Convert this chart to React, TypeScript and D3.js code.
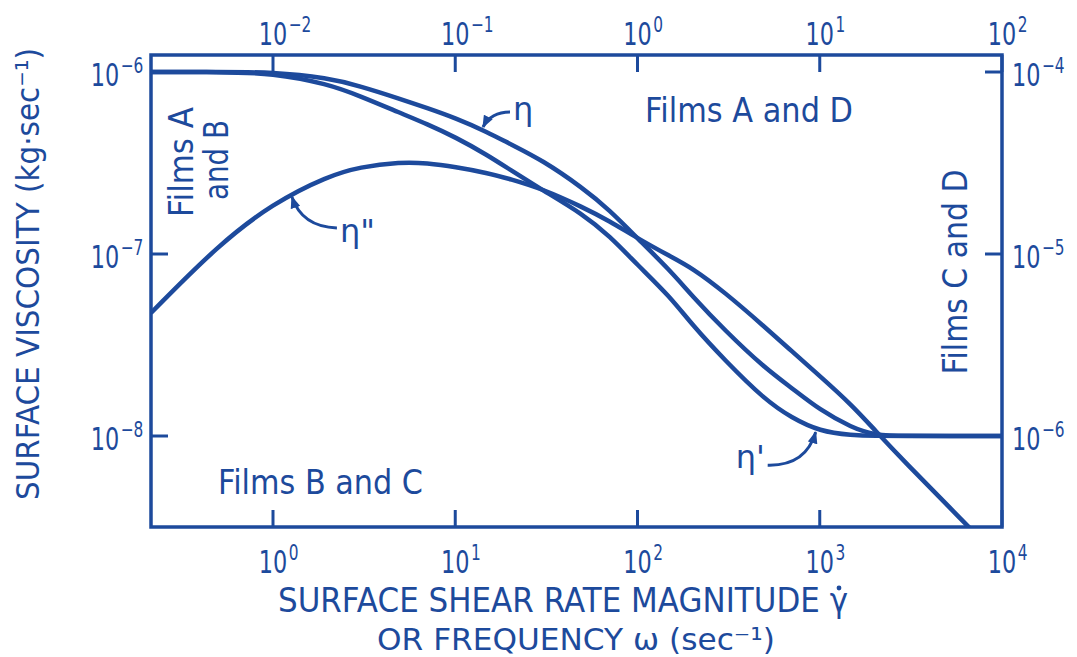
import React from "react";
import * as d3 from "d3";

const INK = "#1d4a9c";
const FONT = "'DejaVu Sans', 'Liberation Sans', sans-serif";

// surface shear rate / frequency (sec^-1), bottom axis
const shearRate = [0.214, 0.5, 1, 2, 3, 5, 7, 10, 15, 20, 30, 50, 70, 100, 150, 200, 300, 500, 700, 1000, 1500, 2000, 3000, 5000, 10000];

// eta (steady shear viscosity), kg/sec
const eta = [1.0e-6, 1.0e-6, 1.0e-6, 9.27e-7, 8.38e-7, 7.11e-7, 6.34e-7, 5.59e-7, 4.68e-7, 4.02e-7, 3.28e-7, 2.31e-7, 1.75e-7, 1.22e-7, 8.17e-8, 5.87e-8, 3.82e-8, 2.36e-8, 1.84e-8, 1.39e-8, 1.11e-8, 1.01e-8, 1.0e-8, 1.0e-8, 1.0e-8];

// eta' (dynamic viscosity)
const etaPrime = [1.0e-6, 1.0e-6, 9.87e-7, 8.59e-7, 7.38e-7, 5.95e-7, 5.18e-7, 4.39e-7, 3.5e-7, 2.9e-7, 2.25e-7, 1.66e-7, 1.26e-7, 8.71e-8, 5.87e-8, 4.07e-8, 2.62e-8, 1.58e-8, 1.26e-8, 1.06e-8, 1.01e-8, 1.0e-8, 1.0e-8, 1.0e-8, 1.0e-8];

// eta'' (out-of-phase component)
const etaDoublePrime = [4.74e-8, 1.12e-7, 1.9e-7, 2.68e-7, 3.01e-7, 3.2e-7, 3.16e-7, 3.01e-7, 2.79e-7, 2.58e-7, 2.28e-7, 1.81e-7, 1.52e-7, 1.22e-7, 9.75e-8, 8.37e-8, 6.18e-8, 3.97e-8, 2.93e-8, 2.14e-8, 1.48e-8, 1.08e-8, 7.02e-9, 4.18e-9, 2.06e-9];

const bottomTicks = [1, 10, 100, 1000, 10000];
const bottomExp = ["0", "1", "2", "3", "4"];
const topTicks = [0.01, 0.1, 1, 10, 100];
const topExp = ["\u22122", "\u22121", "0", "1", "2"];
const leftTicks = [1e-6, 1e-7, 1e-8];
const leftExp = ["\u22126", "\u22127", "\u22128"];
const rightTicks = [1e-4, 1e-5, 1e-6];
const rightExp = ["\u22124", "\u22125", "\u22126"];

// curve labels: text, arrow tip (rate, viscosity), label offset, arrow start, control point (px offsets from tip)
const curveLabels = ["\u03b7", "\u03b7\"", "\u03b7'"];
const labelTipRate = [14.2, 1.27, 950];
const labelTipVisc = [4.99e-7, 2.06e-7, 1.05e-8];
const labelOffset = [[30, -7], [48, 45], [-80, 36]];
const arrowStart = [[27, -15], [45, 31], [-48, 33]];
const arrowCtrl = [[8, -15], [10, 30], [-10, 34]];

const W = 1077;
const H = 657;
const frame = { left: 151, right: 1002, top: 55, bottom: 527 };

const x = d3.scaleLog().domain([1, 1e4]).range([273, 1002]);
const xTop = d3.scaleLog().domain([1e-2, 1e2]).range([273, 1002]);
const y = d3.scaleLog().domain([1e-6, 1e-8]).range([72, 436]);
const yRight = d3.scaleLog().domain([1e-4, 1e-6]).range([72, 436]);

const line = (vals: number[]) =>
  d3
    .line<number>()
    .x((_, i) => x(shearRate[i]))
    .y((d) => y(d))
    .curve(d3.curveBasis)(vals) || "";

function Pow({ px, py, exp, anchor }: { px: number; py: number; exp: string; anchor: "mid" | "end" | "start" }) {
  // "10" with a superscript, condensed horizontally like the lettering guide
  const sx = 0.7;
  const baseW = 40.7;
  let x0 = -baseW / 2;
  if (anchor === "end") x0 = -(baseW + 4 + exp.length * 13.5);
  if (anchor === "start") x0 = 0;
  return (
    <g transform={`translate(${px},${py}) scale(${sx},1)`}>
      <text x={x0} y={0} fontSize={32}>10</text>
      <text x={x0 + baseW + 2} y={-13} fontSize={22}>{exp}</text>
    </g>
  );
}

export default function App() {
  const tick = 17;
  return (
    <svg
      width={W}
      height={H}
      style={{ position: "absolute", left: 0, top: 0, background: "#fff" }}
      fontFamily={FONT}
      fill={INK}
    >
      <defs>
        <clipPath id="plot">
          <rect x={frame.left} y={frame.top} width={frame.right - frame.left} height={frame.bottom - frame.top} />
        </clipPath>
        <marker id="head" viewBox="0 0 10 8" refX={9} refY={4} markerWidth={13} markerHeight={10} markerUnits="userSpaceOnUse" orient="auto">
          <path d="M0,0 L10,4 L0,8 Z" fill={INK} />
        </marker>
      </defs>

      {/* frame */}
      <rect
        x={frame.left}
        y={frame.top}
        width={frame.right - frame.left}
        height={frame.bottom - frame.top}
        fill="none"
        stroke={INK}
        strokeWidth={3.5}
      />

      {/* ticks */}
      <g stroke={INK} strokeWidth={3}>
        {bottomTicks.map((t) => (
          <line key={"b" + t} x1={x(t)} x2={x(t)} y1={frame.bottom} y2={frame.bottom - tick} />
        ))}
        {topTicks.map((t) => (
          <line key={"t" + t} x1={xTop(t)} x2={xTop(t)} y1={frame.top} y2={frame.top + tick} />
        ))}
        {leftTicks.map((t) => (
          <line key={"l" + t} x1={frame.left} x2={frame.left + tick} y1={y(t)} y2={y(t)} />
        ))}
        {rightTicks.map((t) => (
          <line key={"r" + t} x1={frame.right} x2={frame.right - tick} y1={yRight(t)} y2={yRight(t)} />
        ))}
      </g>

      {/* tick labels */}
      {bottomTicks.map((t, i) => (
        <Pow key={"bl" + t} px={x(t)} py={573} exp={bottomExp[i]} anchor="mid" />
      ))}
      {topTicks.map((t, i) => (
        <Pow key={"tl" + t} px={xTop(t)} py={45} exp={topExp[i]} anchor="mid" />
      ))}
      {leftTicks.map((t, i) => (
        <Pow key={"ll" + t} px={141} py={y(t) + 14} exp={leftExp[i]} anchor="end" />
      ))}
      {rightTicks.map((t, i) => (
        <Pow key={"rl" + t} px={1012} py={yRight(t) + 14} exp={rightExp[i]} anchor="start" />
      ))}

      {/* curves */}
      <g clipPath="url(#plot)" fill="none" stroke={INK} strokeWidth={4.5} strokeLinejoin="round">
        <path d={line(eta)} />
        <path d={line(etaPrime)} />
        <path d={line(etaDoublePrime)} />
      </g>

      {/* curve labels with arrows */}
      {curveLabels.map((lab, i) => {
        const tx = x(labelTipRate[i]);
        const ty = y(labelTipVisc[i]);
        const s = arrowStart[i];
        const c = arrowCtrl[i];
        return (
          <g key={lab}>
            <path
              d={`M${tx + s[0]},${ty + s[1]} Q${tx + c[0]},${ty + c[1]} ${tx},${ty}`}
              fill="none"
              stroke={INK}
              strokeWidth={3}
              markerEnd="url(#head)"
            />
            <text x={tx + labelOffset[i][0]} y={ty + labelOffset[i][1]} fontSize={32}>
              {lab}
            </text>
          </g>
        );
      })}

      {/* region labels */}
      <text x={645} y={122} fontSize={33} textLength={208} lengthAdjust="spacingAndGlyphs">Films A and D</text>
      <text x={218} y={494} fontSize={34} textLength={205} lengthAdjust="spacingAndGlyphs">Films B and C</text>
      <text x={193} y={162} fontSize={34} textAnchor="middle" textLength={110} lengthAdjust="spacingAndGlyphs" transform="rotate(-90,193,162)">Films A</text>
      <text x={228} y={160} fontSize={34} textAnchor="middle" textLength={80} lengthAdjust="spacingAndGlyphs" transform="rotate(-90,228,160)">and B</text>
      <text x={967} y={272} fontSize={34} textAnchor="middle" textLength={205} lengthAdjust="spacingAndGlyphs" transform="rotate(-90,967,272)">Films C and D</text>

      {/* axis titles */}
      <text x={39} y={274} fontSize={32} textAnchor="middle" textLength={452} lengthAdjust="spacingAndGlyphs" transform="rotate(-90,39,274)">
        SURFACE VISCOSITY (kg·sec⁻¹)
      </text>
      <text x={278} y={612} fontSize={33} textLength={570} lengthAdjust="spacingAndGlyphs">SURFACE SHEAR RATE MAGNITUDE γ</text>
      <circle cx={839} cy={588} r={2.4} fill={INK} />
      <text x={377} y={650} fontSize={31} textLength={398} lengthAdjust="spacingAndGlyphs">OR FREQUENCY ω (sec⁻¹)</text>
    </svg>
  );
}
